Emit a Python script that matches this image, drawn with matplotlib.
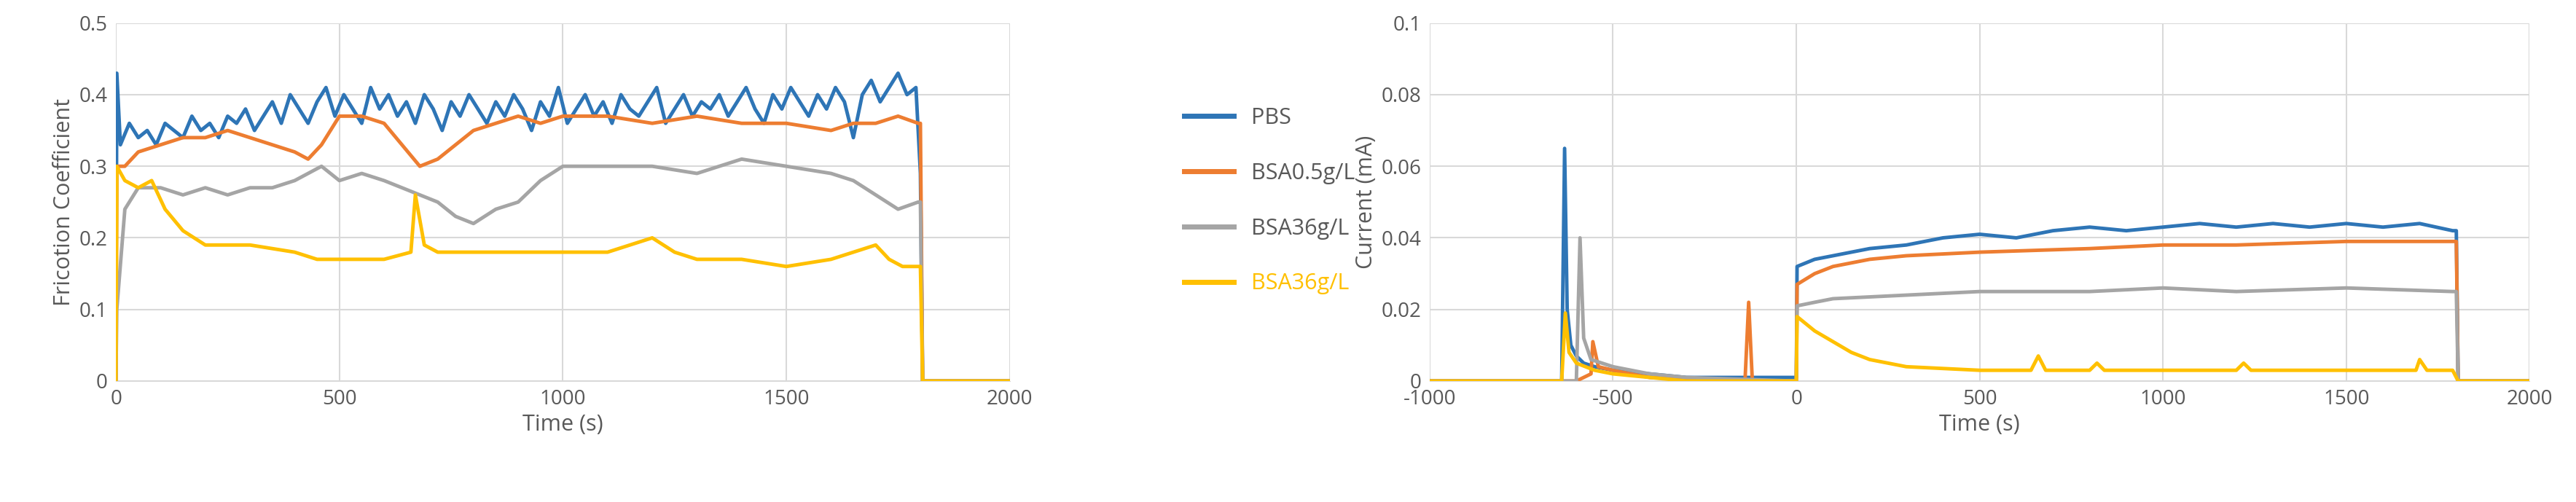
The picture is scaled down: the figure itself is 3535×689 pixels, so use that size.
import numpy as np
import matplotlib
matplotlib.use("Agg")
import matplotlib.pyplot as plt

plt.rcParams['font.family'] = ['Open Sans', 'DejaVu Sans']
plt.rcParams['axes.unicode_minus'] = False

# ---- left chart: friction coefficient ----
t_pbs = [0, 2, 10, 30, 50, 70, 90, 110, 130, 150, 170, 190, 210, 230, 250, 270, 290, 310, 330, 350,
         370, 390, 410, 430, 450, 470, 490, 510, 530, 550, 570, 590, 610, 630, 650, 670, 690, 710,
         730, 750, 770, 790, 810, 830, 850, 870, 890, 910, 930, 950, 970, 990, 1010, 1030, 1050,
         1070, 1090, 1110, 1130, 1150, 1170, 1190, 1210, 1230, 1250, 1270, 1290, 1310, 1330, 1350,
         1370, 1390, 1410, 1430, 1450, 1470, 1490, 1510, 1530, 1550, 1570, 1590, 1610, 1630, 1650,
         1670, 1690, 1710, 1730, 1750, 1770, 1790, 1800, 1805, 2000]
pbs = [0.0, 0.43, 0.33, 0.36, 0.34, 0.35, 0.33, 0.36, 0.35, 0.34, 0.37, 0.35, 0.36, 0.34, 0.37, 0.36,
       0.38, 0.35, 0.37, 0.39, 0.36, 0.40, 0.38, 0.36, 0.39, 0.41, 0.37, 0.40, 0.38, 0.36, 0.41, 0.38,
       0.40, 0.37, 0.39, 0.36, 0.40, 0.38, 0.35, 0.39, 0.37, 0.40, 0.38, 0.36, 0.39, 0.37, 0.40,
       0.38, 0.35, 0.39, 0.37, 0.41, 0.36, 0.38, 0.40, 0.37, 0.39, 0.36, 0.40, 0.38, 0.37, 0.39,
       0.41, 0.36, 0.38, 0.40, 0.37, 0.39, 0.38, 0.40, 0.37, 0.39, 0.41, 0.38, 0.36, 0.40, 0.38,
       0.41, 0.39, 0.37, 0.40, 0.38, 0.41, 0.39, 0.34, 0.40, 0.42, 0.39, 0.41, 0.43, 0.40, 0.41,
       0.29, 0.0, 0.0]

t_fc = [0, 2, 20, 50, 100, 150, 200, 250, 300, 350, 400, 430, 460, 500, 550, 600, 640, 680, 720,
        760, 800, 850, 900, 950, 1000, 1100, 1200, 1300, 1400, 1500, 1600, 1650, 1700, 1750,
        1795, 1800, 1805, 2000]
bsa05 = [0.0, 0.30, 0.30, 0.32, 0.33, 0.34, 0.34, 0.35, 0.34, 0.33, 0.32, 0.31, 0.33, 0.37, 0.37,
         0.36, 0.33, 0.30, 0.31, 0.33, 0.35, 0.36, 0.37, 0.36, 0.37, 0.37, 0.36, 0.37, 0.36, 0.36,
         0.35, 0.36, 0.36, 0.37, 0.36, 0.36, 0.0, 0.0]
bsa36 = [0.0, 0.10, 0.24, 0.27, 0.27, 0.26, 0.27, 0.26, 0.27, 0.27, 0.28, 0.29, 0.30, 0.28, 0.29,
         0.28, 0.27, 0.26, 0.25, 0.23, 0.22, 0.24, 0.25, 0.28, 0.30, 0.30, 0.30, 0.29, 0.31, 0.30,
         0.29, 0.28, 0.26, 0.24, 0.25, 0.25, 0.0, 0.0]
t_y = [0, 2, 20, 50, 80, 110, 150, 200, 300, 400, 450, 500, 600, 660, 670, 690, 720, 800, 900,
       1000, 1100, 1150, 1200, 1250, 1300, 1400, 1500, 1600, 1650, 1700, 1730, 1760, 1800, 1805, 2000]
bsa36y = [0.0, 0.30, 0.28, 0.27, 0.28, 0.24, 0.21, 0.19, 0.19, 0.18, 0.17, 0.17, 0.17, 0.18, 0.26,
          0.19, 0.18, 0.18, 0.18, 0.18, 0.18, 0.19, 0.20, 0.18, 0.17, 0.17, 0.16, 0.17, 0.18, 0.19,
          0.17, 0.16, 0.16, 0.0, 0.0]

# ---- right chart: current ----
tr_b = [-1000, -640, -632, -625, -615, -600, -580, -550, -500, -400, -300, 0, 2, 50, 100, 200, 300,
        400, 500, 600, 700, 800, 900, 1000, 1100, 1200, 1300, 1400, 1500, 1600, 1700, 1790, 1800,
        1805, 2000]
cur_b = [0, 0, 0.065, 0.02, 0.01, 0.007, 0.005, 0.004, 0.003, 0.002, 0.001, 0.001, 0.032, 0.034,
         0.035, 0.037, 0.038, 0.040, 0.041, 0.040, 0.042, 0.043, 0.042, 0.043, 0.044, 0.043, 0.044,
         0.043, 0.044, 0.043, 0.044, 0.042, 0.042, 0.0, 0.0]
tr_o = [-1000, -600, -560, -555, -540, -500, -400, -300, -140, -130, -120, 0, 2, 50, 100, 200, 300,
        500, 800, 1000, 1200, 1500, 1790, 1800, 1805, 2000]
cur_o = [0, 0, 0.002, 0.011, 0.004, 0.003, 0.001, 0.0005, 0.0, 0.022, 0.0, 0.0, 0.027, 0.030,
         0.032, 0.034, 0.035, 0.036, 0.037, 0.038, 0.038, 0.039, 0.039, 0.039, 0.0, 0.0]
tr_g = [-1000, -600, -590, -580, -560, -500, -400, -300, 0, 2, 50, 100, 300, 500, 800, 1000, 1200,
        1500, 1790, 1800, 1805, 2000]
cur_g = [0, 0, 0.04, 0.012, 0.006, 0.004, 0.002, 0.001, 0.0, 0.021, 0.022, 0.023, 0.024, 0.025,
         0.025, 0.026, 0.025, 0.026, 0.025, 0.025, 0.0, 0.0]
tr_y = [-1000, -640, -630, -620, -600, -550, -500, -400, -300, 0, 2, 50, 100, 150, 200, 300, 500,
        640, 660, 680, 800, 820, 840, 1200, 1220, 1240, 1690, 1700, 1720, 1790, 1805, 2000]
cur_y = [0, 0, 0.019, 0.008, 0.005, 0.003, 0.002, 0.001, 0.0, 0.0, 0.018, 0.014, 0.011, 0.008,
         0.006, 0.004, 0.003, 0.003, 0.007, 0.003, 0.003, 0.005, 0.003, 0.003, 0.005, 0.003, 0.003,
         0.006, 0.003, 0.003, 0.0, 0.0]

blue, orange, gray, yellow = '#2E75B6', '#ED7D31', '#A5A5A5', '#FFC000'
tc = '#595959'

fig = plt.figure(figsize=(35.35, 6.89), dpi=100)
ax1 = fig.add_axes([0.045, 0.241, 0.347, 0.713])
ax2 = fig.add_axes([0.555, 0.241, 0.427, 0.713])

lw = 3.5
l1, = ax1.plot(t_pbs, pbs, color=blue, lw=lw, label='PBS')
l2, = ax1.plot(t_fc, bsa05, color=orange, lw=lw, label='BSA0.5g/L')
l3, = ax1.plot(t_fc, bsa36, color=gray, lw=lw, label='BSA36g/L')
l4, = ax1.plot(t_y, bsa36y, color=yellow, lw=lw, label='BSA36g/L')
ax1.set_xlim(0, 2000)
ax1.set_ylim(0, 0.5)
ax1.set_xticks(range(0, 2001, 500))
ax1.set_yticks(np.arange(0, 0.51, 0.1))
ax1.set_yticklabels(['0', '0.1', '0.2', '0.3', '0.4', '0.5'])
ax1.set_xlabel('Time (s)', color=tc, fontsize=22)
ax1.set_ylabel('Fricotion Coefficient', color=tc, fontsize=22)

ax2.plot(tr_b, cur_b, color=blue, lw=lw)
ax2.plot(tr_o, cur_o, color=orange, lw=lw)
ax2.plot(tr_g, cur_g, color=gray, lw=lw)
ax2.plot(tr_y, cur_y, color=yellow, lw=lw)
ax2.set_xlim(-1000, 2000)
ax2.set_ylim(0, 0.1)
ax2.set_xticks(range(-1000, 2001, 500))
ax2.set_yticks(np.arange(0, 0.101, 0.02))
ax2.set_yticklabels(['0', '0.02', '0.04', '0.06', '0.08', '0.1'])
ax2.set_xlabel('Time (s)', color=tc, fontsize=22)
ax2.set_ylabel('Current (mA)', color=tc, fontsize=22)

for ax in (ax1, ax2):
    ax.grid(True, color='#D9D9D9', lw=1.5)
    ax.set_axisbelow(True)
    for s in ax.spines.values():
        s.set_visible(False)
    ax.spines['bottom'].set_visible(True)
    ax.spines['bottom'].set_color('#D9D9D9')
    ax.tick_params(length=0, labelsize=20, labelcolor=tc, pad=8)

leg = fig.legend(handles=[l1, l2, l3, l4], loc='center left', bbox_to_anchor=(0.452, 0.6),
                 frameon=False, fontsize=22, labelspacing=1.5, handlelength=2.2)
for h in leg.get_lines():
    h.set_linewidth(5)
for txt, c in zip(leg.get_texts(), [tc, tc, tc, yellow]):
    txt.set_color(c)

fig.savefig('out.png', dpi=100)
